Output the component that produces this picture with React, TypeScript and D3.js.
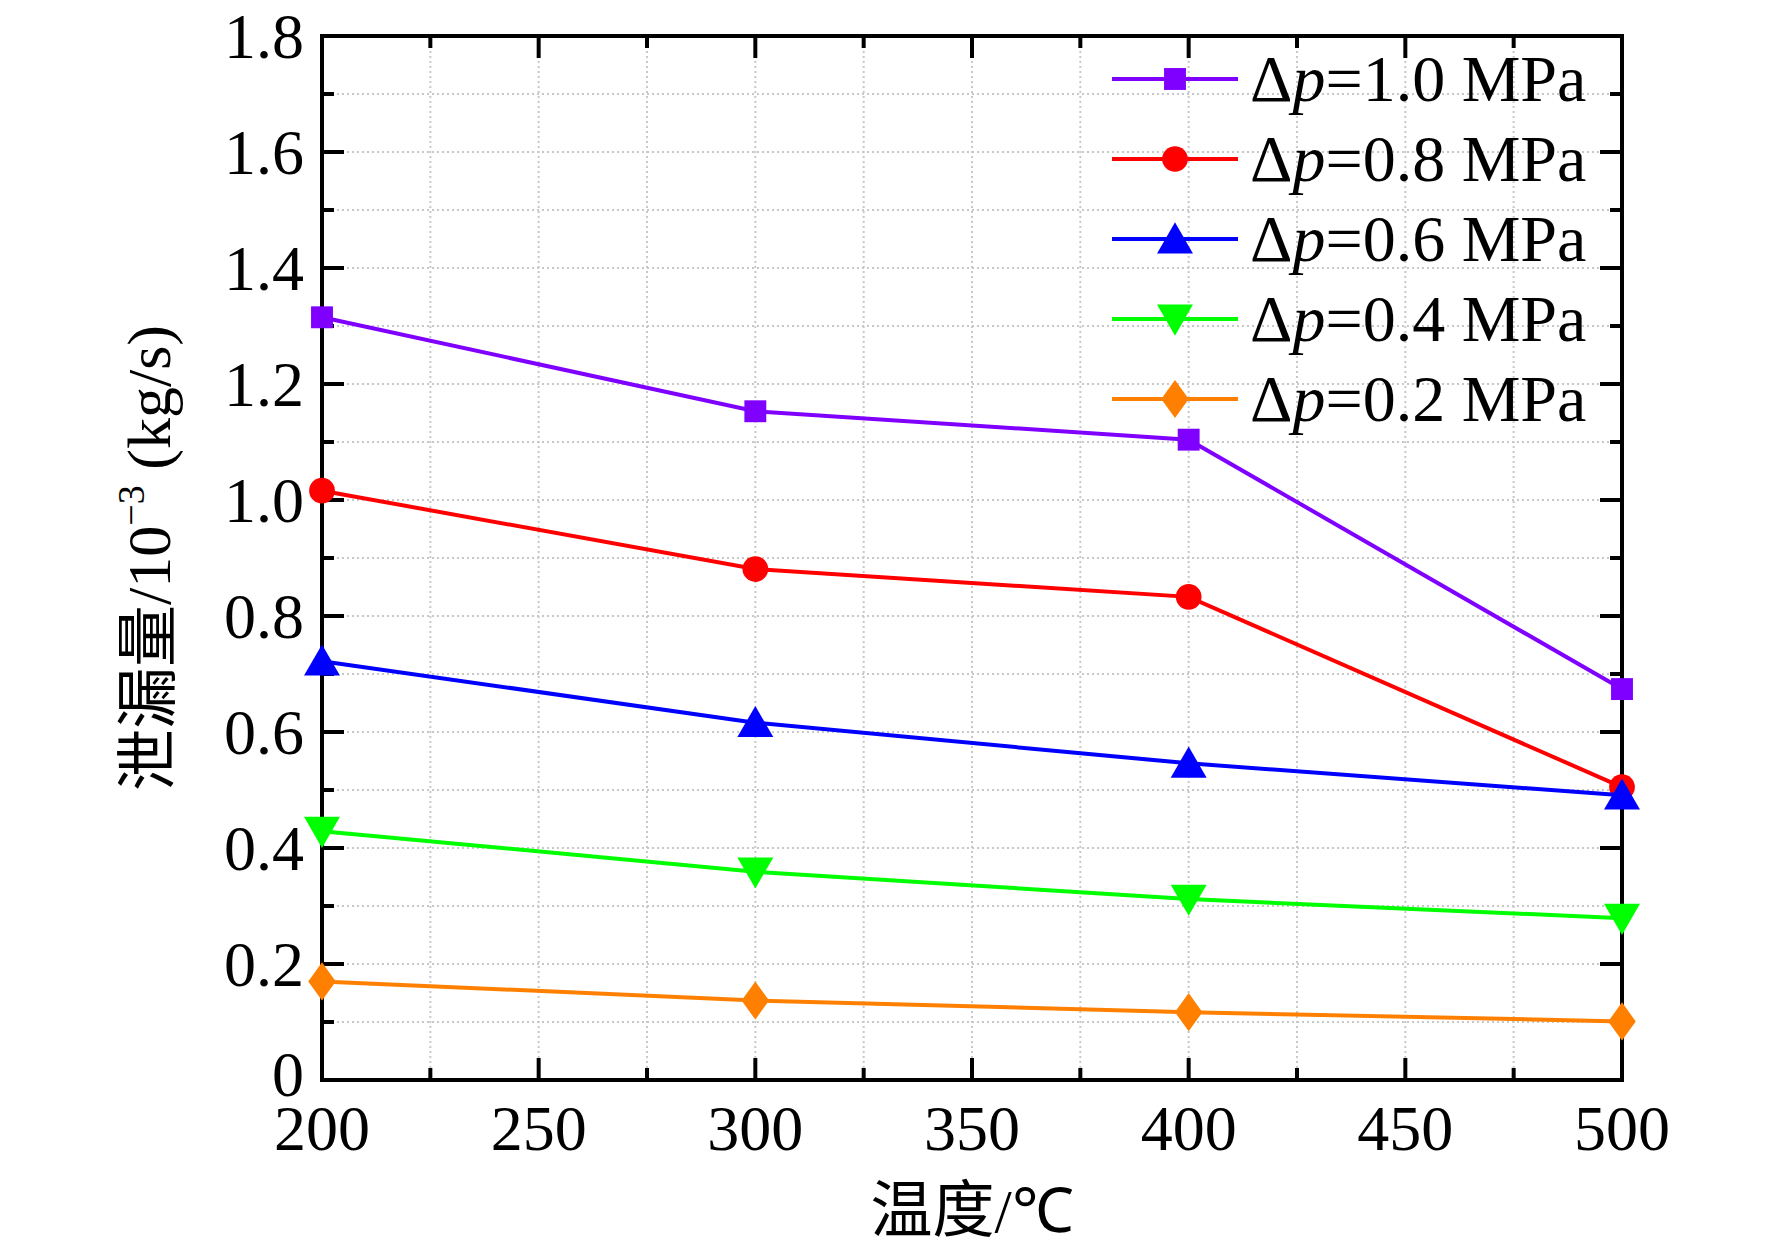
import React from "react";
import * as d3 from "d3";

const temps = [200, 300, 400, 500];
const p10 = [1.315, 1.153, 1.104, 0.674];
const p08 = [1.016, 0.881, 0.833, 0.505];
const p06 = [0.722, 0.616, 0.546, 0.491];
const p04 = [0.429, 0.359, 0.312, 0.279];
const p02 = [0.17, 0.137, 0.117, 0.101];
const labels = ["1.0", "0.8", "0.6", "0.4", "0.2"];
const colors = ["#8000ff", "#ff0000", "#0000ff", "#00ff00", "#ff8000"];
const shapes = [d3.symbolSquare, d3.symbolCircle, d3.symbolTriangle, "down", d3.symbolDiamond];
const series = [p10, p08, p06, p04, p02];
const yTickLabels = ["0", "0.2", "0.4", "0.6", "0.8", "1.0", "1.2", "1.4", "1.6", "1.8"];

const W = 1772, H = 1255;
const L = 322, R = 1622, T = 36, B = 1080;
const font = "Liberation Serif, Times New Roman, serif";

function Marker({x, y, shape, color}: any) {
	if (shape === "down") {
		const p = d3.symbol().type(d3.symbolTriangle).size(560)();
		return <path d={p!} transform={`translate(${x},${y - 4}) rotate(180)`} fill={color} />;
	}
	const size = shape === d3.symbolSquare ? 480 : shape === d3.symbolDiamond ? 420 : shape === d3.symbolTriangle ? 560 : 520;
	const p = d3.symbol().type(shape).size(size)();
	return <path d={p!} transform={`translate(${x},${y + (shape === d3.symbolTriangle ? 4 : 0)})${shape === d3.symbolDiamond ? " scale(1.25,1)" : ""}`} fill={color} />;
}

export default function App() {
	const x = d3.scaleLinear().domain([200, 500]).range([L, R]);
	const y = d3.scaleLinear().domain([0, 1.8]).range([B, T]);
	const line = d3.line<number>().x((_, i) => x(temps[i])).y((d) => y(d));
	const xMinor = d3.range(200, 501, 25);
	const yMinor = d3.range(0, 19).map((i) => i / 10);
	const xMajor = d3.range(200, 501, 50);
	const yMajor = yTickLabels.map(Number);
	return (
		<svg width={W} height={H} style={{display: "block", margin: -8, fontFamily: font}}>
			<rect width={W} height={H} fill="#fff" />
			{xMinor.map((v) => (
				<line key={"gx" + v} x1={x(v)} x2={x(v)} y1={T} y2={B} stroke="#c8c8c8" strokeWidth={2} strokeDasharray="2,3" />
			))}
			{yMinor.map((v) => (
				<line key={"gy" + v} x1={L} x2={R} y1={y(v)} y2={y(v)} stroke="#c8c8c8" strokeWidth={2} strokeDasharray="2,3" />
			))}
			{xMinor.map((v) => {
				const len = v % 50 === 0 ? 22 : 12;
				return (
					<g key={"tx" + v} stroke="#000" strokeWidth={4}>
						<line x1={x(v)} x2={x(v)} y1={B} y2={B - len} />
						<line x1={x(v)} x2={x(v)} y1={T} y2={T + len} />
					</g>
				);
			})}
			{yMinor.map((v, i) => {
				const len = i % 2 === 0 ? 22 : 12;
				return (
					<g key={"ty" + v} stroke="#000" strokeWidth={4}>
						<line x1={L} x2={L + len} y1={y(v)} y2={y(v)} />
						<line x1={R} x2={R - len} y1={y(v)} y2={y(v)} />
					</g>
				);
			})}
			<rect x={L} y={T} width={R - L} height={B - T} fill="none" stroke="#000" strokeWidth={4} />
			{xMajor.map((v) => (
				<text key={"lx" + v} x={x(v)} y={B + 70} fontSize={64} textAnchor="middle">{v}</text>
			))}
			{yMajor.map((v, i) => (
				<text key={"ly" + v} x={L - 18} y={y(v) + (i === 0 ? 16 : 22)} fontSize={64} textAnchor="end">{yTickLabels[i]}</text>
			))}
			<text x={(L + R) / 2} y={1232} fontSize={62} textAnchor="middle">
				<tspan fontFamily="Noto Sans CJK SC">温度</tspan>/℃
			</text>
			<text transform={`translate(170,${(T + B) / 2}) rotate(-90)`} fontSize={62} textAnchor="middle">
				<tspan fontFamily="Noto Sans CJK SC">泄漏量</tspan>/10<tspan fontSize={38} dy={-26}>−3</tspan><tspan dy={26}> (kg/s)</tspan>
			</text>
			{series.map((s, k) => (
				<g key={"s" + k}>
					<path d={line(s)!} fill="none" stroke={colors[k]} strokeWidth={4} />
					{s.map((v, i) => (
						<Marker key={i} x={x(temps[i])} y={y(v)} shape={shapes[k]} color={colors[k]} />
					))}
				</g>
			))}
			{labels.map((lab, k) => {
				const ly = 79 + k * 80;
				return (
					<g key={"lg" + k}>
						<line x1={1112} x2={1238} y1={ly} y2={ly} stroke={colors[k]} strokeWidth={4} />
						<Marker x={1175} y={ly} shape={shapes[k]} color={colors[k]} />
						<text x={1250} y={ly + 22} fontSize={66}>
							Δ<tspan fontStyle="italic">p</tspan>={lab} MPa
						</text>
					</g>
				);
			})}
		</svg>
	);
}
